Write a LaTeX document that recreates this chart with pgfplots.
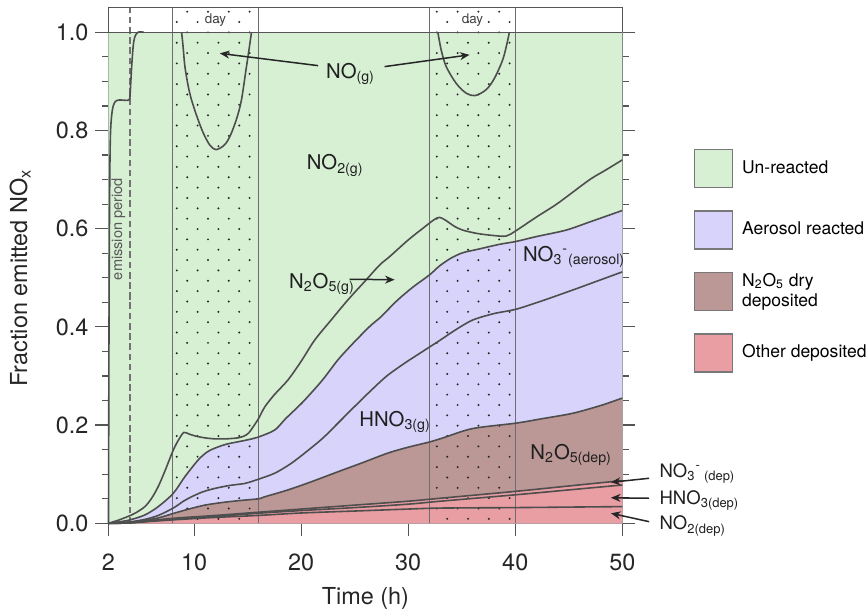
\documentclass[border=0pt]{standalone}
\usepackage{fontspec}
\setmainfont{TeX Gyre Heros}
\usepackage{pgfplots}
\pgfplotsset{compat=1.18}
\usetikzlibrary{patterns,arrows.meta}

\definecolor{cUnreacted}{RGB}{215,240,212}
\definecolor{cAerosol}{RGB}{215,211,250}
\definecolor{cN2O5dep}{RGB}{187,152,150}
\definecolor{cOtherdep}{RGB}{233,158,163}
\definecolor{cLine}{RGB}{78,78,78}
\definecolor{cFrame}{RGB}{85,85,85}
\definecolor{cBox}{RGB}{120,120,120}

% staggered dots for the daytime columns
\pgfdeclarepatternformonly{daydots}{\pgfqpoint{-1bp}{-1bp}}{\pgfqpoint{6.5bp}{6.5bp}}{\pgfqpoint{10.4bp}{10.35bp}}{
  \pgfpathcircle{\pgfqpoint{0bp}{0bp}}{0.55bp}
  \pgfpathcircle{\pgfqpoint{5.2bp}{5.175bp}}{0.55bp}
  \pgfusepath{fill}
}

\newcommand\annfont{\fontsize{10.2}{12}\selectfont}
\newcommand\sidefont{\fontsize{9.3}{11}\selectfont}

\begin{document}
\begin{tikzpicture}
\useasboundingbox (-54.25bp,-44.35bp) rectangle (379.75bp,261.65bp);
\begin{axis}[
    scale only axis,
    width=256.9bp, height=257.8bp,
    xmin=2, xmax=50, ymin=0, ymax=1.05,
    clip=false,
    axis background/.style={fill=white},
    axis line style={cFrame, line width=0.6bp},
    xtick={2,10,20,30,40,50},
    ytick={0,0.2,0.4,0.6,0.8,1},
    minor ytick={0.05,0.1,0.15,0.25,0.3,0.35,0.45,0.5,0.55,0.65,0.7,0.75,0.85,0.9,0.95},
    xtick pos=left,
    ytick pos=both,
    yticklabel pos=left,
    tick align=outside,
    major tick length=6.5bp,
    minor tick length=3.3bp,
    every tick/.style={cFrame, line width=0.6bp},
    /pgf/number format/assume math mode=true,
    tick label style={font=\fontsize{11.75}{14}\selectfont, text=black!85},
    xticklabel style={yshift=-5.5bp},
    yticklabel style={/pgf/number format/fixed, /pgf/number format/fixed zerofill,
                      /pgf/number format/precision=1},
    label style={font=\fontsize{11.75}{14}\selectfont, text=black!85},
    xlabel={Time (h)},
    ylabel={Fraction emitted NO\textsubscript{x}},
    xlabel style={at={(axis description cs:0.5,-0.145)}, anchor=center},
    ylabel style={at={(axis description cs:-0.172,0.476)}, anchor=center},
    legend image code/.code={\draw[#1, draw=cBox, line width=0.7bp] (0bp,-9.5bp) rectangle (19bp,9.5bp);},
    legend style={at={(1.139,0.726)}, anchor=north west, draw=none, fill=none,
                  inner sep=0pt, outer sep=0pt, row sep=11bp,
                  font=\fontsize{8.8}{10.5}\selectfont,
                  cells={anchor=west, align=left},
                  nodes={inner sep=0pt},
                  /tikz/every odd column/.append style={column sep=4.5bp}},
]

% ---- stacked areas (cumulative boundaries) ----
\addplot[draw=none, fill=cUnreacted, forget plot] coordinates {(2,1) (50,1)} \closedcycle;

% top of NO3-(aerosol)
\addplot[draw=none, fill=cAerosol, smooth, forget plot] coordinates {
 (2,0) (3,0.003) (4,0.007) (5.4,0.017) (6.65,0.034) (8.05,0.061) (9.14,0.095)
 (10.38,0.129) (11.2,0.145) (11.93,0.153) (13.0,0.161) (14.1,0.166) (15.0,0.170)
 (16.04,0.176) (17.53,0.190) (18.5,0.212) (19.5,0.233) (20.33,0.251) (22.0,0.292)
 (23.44,0.333) (25.0,0.370) (26.55,0.404) (27.33,0.418) (29.03,0.455) (30.5,0.482)
 (32.0,0.506) (32.92,0.524) (34.0,0.540) (35.1,0.551) (36.5,0.558) (38.5,0.568)
 (40.08,0.574) (42.0,0.584) (44.74,0.597) (47.0,0.614) (50.0,0.637)
} \closedcycle;

% top of N2O5(dep)
\addplot[draw=none, fill=cN2O5dep, smooth, forget plot] coordinates {
 (2,0) (4,0.002) (5.4,0.006) (6.65,0.011) (8.05,0.020) (9.5,0.029) (11.0,0.037)
 (12.5,0.042) (14.1,0.046) (16.04,0.050) (16.6,0.054) (18.77,0.068) (21.0,0.085)
 (23.44,0.105) (25.8,0.124) (28.1,0.143) (30.0,0.155) (32.06,0.166) (33.4,0.175)
 (36.03,0.193) (40.08,0.204) (42.5,0.213) (45.36,0.224) (48.0,0.240) (50.0,0.255)
} \closedcycle;

% top of NO3-(dep)
\addplot[draw=none, fill=cOtherdep, smooth, forget plot] coordinates {
 (2,0) (4,0.001) (8,0.010) (12,0.016) (15.67,0.022) (20,0.029) (25,0.037)
 (30,0.045) (33,0.051) (40,0.065) (45,0.076) (50,0.087)
} \closedcycle;

% ---- day shading ----
\addplot[draw=none, pattern=daydots, pattern color=black!85, forget plot]
    coordinates {(8,1.05) (16,1.05)} \closedcycle;
\addplot[draw=none, pattern=daydots, pattern color=black!85, forget plot]
    coordinates {(32,1.05) (40,1.05)} \closedcycle;

\addplot[cFrame!85, line width=0.5bp, forget plot] coordinates {(8,0) (8,1.05)};
\addplot[cFrame!85, line width=0.5bp, forget plot] coordinates {(16,0) (16,1.05)};
\addplot[cFrame!85, line width=0.5bp, forget plot] coordinates {(32,0) (32,1.05)};
\addplot[cFrame!85, line width=0.5bp, forget plot] coordinates {(40,0) (40,1.05)};
\addplot[black!55, line width=0.75bp, dash pattern=on 3.3bp off 1.8bp, forget plot]
    coordinates {(4,0) (4,1.05)};
\addplot[cFrame, line width=0.6bp, forget plot] coordinates {(2,1) (50,1)};

% ---- boundary lines ----
\pgfplotsset{every axis plot/.append style={cLine, line width=0.8bp, smooth}}
% NO / NO2 : emission period, then the two daytime dips
\addplot[forget plot] coordinates {
 (2.00,0.00) (2.04,0.35) (2.10,0.65) (2.18,0.79) (2.35,0.84) (2.6,0.858) (3.0,0.862)
 (3.9,0.862) (4.02,0.875) (4.15,0.925) (4.3,0.97) (4.45,0.99) (4.75,1.0) (5.3,1.0)
};
\addplot[forget plot] coordinates {
 (8.83,1.0) (8.95,0.975) (9.14,0.930) (9.45,0.89) (9.76,0.862) (10.3,0.826)
 (10.85,0.795) (11.47,0.770) (12.03,0.761) (12.71,0.768) (13.1,0.778) (13.49,0.795)
 (14.0,0.826) (14.42,0.862) (14.89,0.930) (15.15,0.968) (15.36,1.0)
};
\addplot[forget plot] coordinates {
 (32.77,1.0) (33.08,0.964) (33.55,0.930) (34.48,0.896) (35.41,0.876) (36.25,0.871)
 (37.28,0.883) (38.05,0.906) (38.83,0.944) (39.24,0.978) (39.45,1.0)
};
% NO2 / N2O5(g)
\addplot[forget plot] coordinates {
 (2,0) (3,0.007) (3.94,0.015) (4.6,0.022) (5.4,0.034) (6.0,0.05) (6.65,0.075)
 (7.3,0.108) (8.05,0.149) (8.6,0.172) (9.04,0.185) (9.5,0.182) (10.07,0.178)
 (11.0,0.174) (11.93,0.172) (13.0,0.172) (14.1,0.174) (14.7,0.178) (15.1,0.184)
 (15.5,0.196) (16.04,0.214) (16.6,0.237) (17.5,0.262) (18.77,0.292) (20.0,0.330)
 (21.26,0.373) (22.8,0.414) (24.37,0.455) (26.0,0.494) (27.33,0.526) (28.26,0.543)
 (30.0,0.577) (31.5,0.603) (32.4,0.618) (32.92,0.623) (33.5,0.617) (34.3,0.605)
 (35.1,0.597) (36.5,0.590) (38.0,0.586) (39.15,0.585) (40.08,0.596) (42.0,0.624)
 (44.0,0.652) (46.9,0.699) (48.5,0.720) (50.0,0.740)
};
% N2O5(g) / NO3-(aerosol)
\addplot[forget plot] coordinates {
 (2,0) (3,0.003) (4,0.007) (5.4,0.017) (6.65,0.034) (8.05,0.061) (9.14,0.095)
 (10.38,0.129) (11.2,0.145) (11.93,0.153) (13.0,0.161) (14.1,0.166) (15.0,0.170)
 (16.04,0.176) (17.53,0.190) (18.5,0.212) (19.5,0.233) (20.33,0.251) (22.0,0.292)
 (23.44,0.333) (25.0,0.370) (26.55,0.404) (27.33,0.418) (29.03,0.455) (30.5,0.482)
 (32.0,0.506) (32.92,0.524) (34.0,0.540) (35.1,0.551) (36.5,0.558) (38.5,0.568)
 (40.08,0.574) (42.0,0.584) (44.74,0.597) (47.0,0.614) (50.0,0.637)
};
% NO3-(aerosol) / HNO3(g)
\addplot[forget plot] coordinates {
 (2,0) (4,0.003) (5.4,0.008) (6.65,0.016) (8.05,0.031) (9.0,0.045) (9.76,0.054)
 (10.8,0.064) (11.93,0.071) (13.3,0.077) (14.7,0.081) (15.5,0.086) (16.04,0.090)
 (17.53,0.102) (19.0,0.121) (20.33,0.143) (22.0,0.173) (23.44,0.204) (25.0,0.238)
 (26.55,0.271) (28.0,0.300) (29.66,0.326) (31.0,0.345) (32.06,0.360) (32.92,0.372)
 (34.5,0.395) (36.03,0.414) (38.0,0.427) (40.08,0.436) (42.5,0.453) (45.36,0.475)
 (47.5,0.492) (50.0,0.512)
};
% HNO3(g) / N2O5(dep)
\addplot[forget plot] coordinates {
 (2,0) (4,0.002) (5.4,0.006) (6.65,0.011) (8.05,0.020) (9.5,0.029) (11.0,0.037)
 (12.5,0.042) (14.1,0.046) (16.04,0.050) (16.6,0.054) (18.77,0.068) (21.0,0.085)
 (23.44,0.105) (25.8,0.124) (28.1,0.143) (30.0,0.155) (32.06,0.166) (33.4,0.175)
 (36.03,0.193) (40.08,0.204) (42.5,0.213) (45.36,0.224) (48.0,0.240) (50.0,0.255)
};
% N2O5(dep) / NO3-(dep)
\addplot[forget plot] coordinates {
 (2,0) (4,0.001) (8,0.010) (12,0.016) (15.67,0.022) (20,0.029) (25,0.037)
 (30,0.045) (33,0.051) (40,0.065) (45,0.076) (50,0.087)
};
% NO3-(dep) / HNO3(dep)
\addplot[forget plot] coordinates {
 (2,0) (4,0.001) (8,0.009) (12,0.014) (15.67,0.020) (20,0.026) (25,0.032)
 (30,0.039) (33,0.045) (40,0.058) (45,0.068) (50,0.078)
};
% HNO3(dep) / NO2(dep)
\addplot[forget plot] coordinates {
 (2,0) (4,0.001) (8,0.007) (12,0.012) (16,0.016) (20,0.021) (25,0.025)
 (30,0.029) (33,0.031) (40,0.032) (45,0.033) (50,0.034)
};

% ---- legend ----
\addlegendimage{fill=cUnreacted}
\addlegendentry{Un-reacted}
\addlegendimage{fill=cAerosol}
\addlegendentry{Aerosol reacted}
\addlegendimage{fill=cN2O5dep}
\addlegendentry{N\textsubscript{2}O\textsubscript{5} dry\\deposited}
\addlegendimage{fill=cOtherdep}
\addlegendentry{Other deposited}

% ---- annotations ----
\node[font=\fontsize{6.7}{8}\selectfont, text=black!75, inner sep=0] at (axis cs:12,1.025) {day};
\node[font=\fontsize{6.7}{8}\selectfont, text=black!75, inner sep=0] at (axis cs:36,1.025) {day};
\node[rotate=90, font=\fontsize{7.3}{8}\selectfont, text=black!65, inner sep=0]
    at (axis cs:2.93,0.599) {emission period};

\begin{scope}[every node/.style={anchor=base west, inner sep=0, font=\annfont, text=black!88}]
\node at (axis cs:22.29,0.906) {NO\textsubscript{(g)}};
\node at (axis cs:20.49,0.720) {NO\textsubscript{2(g)}};
\node at (axis cs:18.84,0.479) {N\textsubscript{2}O\textsubscript{5(g)}};
\node at (axis cs:40.69,0.534) {NO\textsubscript{3}\textsuperscript{-}\textsubscript{(aerosol)}};
\node at (axis cs:25.40,0.198) {HNO\textsubscript{3(g)}};
\node at (axis cs:41.38,0.130) {N\textsubscript{2}O\textsubscript{5(dep)}};
\end{scope}
\begin{scope}[every node/.style={anchor=base west, inner sep=0, font=\sidefont, text=black!88}]
\node at (axis cs:53.45,0.094) {NO\textsubscript{3}\textsuperscript{-}\,\textsubscript{(dep)}};
\node at (axis cs:53.45,0.039) {HNO\textsubscript{3(dep)}};
\node at (axis cs:53.45,-0.0136) {NO\textsubscript{2(dep)}};
\end{scope}

\begin{scope}[black!85, line width=0.75bp, -{Stealth[length=4.8bp, width=4bp]}]
\draw (axis cs:21.58,0.932) -- (axis cs:12.40,0.957);
\draw (axis cs:27.79,0.930) -- (axis cs:35.73,0.954);
\draw (axis cs:24.53,0.497) -- (axis cs:28.73,0.496);
\draw (axis cs:52.51,0.0917) -- (axis cs:48.94,0.0835);
\draw (axis cs:52.51,0.051) -- (axis cs:48.94,0.052);
\draw (axis cs:52.51,0.0033) -- (axis cs:48.94,0.0204);
\end{scope}

\end{axis}
\end{tikzpicture}
\end{document}
